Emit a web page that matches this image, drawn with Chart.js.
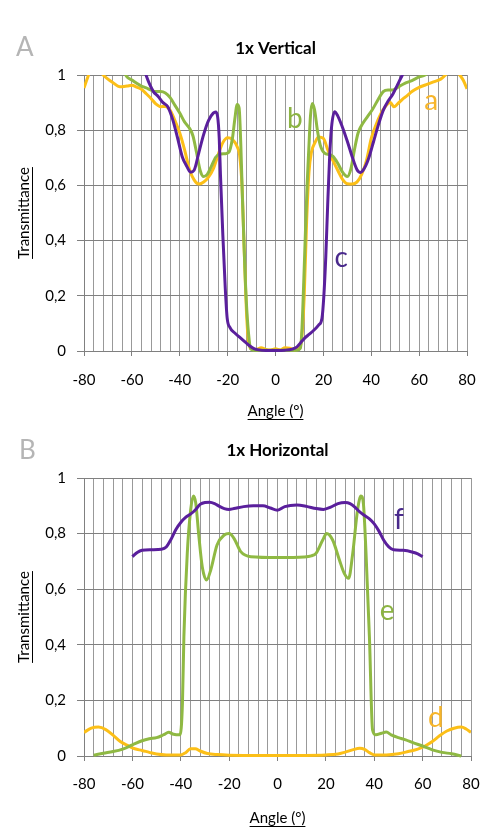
<!DOCTYPE html>
<html>
<head>
<meta charset="utf-8">
<script src="https://cdn.jsdelivr.net/npm/chart.js@4"></script>
<style>
  html, body { margin: 0; padding: 0; background: #fff; }
  canvas { position: absolute; left: 0; }
  #chartA { top: 0; }
  #chartB { top: 422px; }
</style>
</head>
<body>
<canvas id="chartA" width="500" height="422"></canvas>
<canvas id="chartB" width="500" height="416"></canvas>
<script>
// 1x Vertical: a (yellow), b (green), c (purple)
const aAngles = [-80, -78.5, -77, -74, -72, -70, -68, -65, -62, -60, -58, -56, -54, -52, -50, -48, -46, -44, -42, -40,
  -38, -36, -34, -32, -30, -28, -26, -24, -22, -20, -18, -16, -15, -14, -13, -12, -11, -10, -8, -6,
  -4, -2, 0, 2, 4, 6, 8, 10, 11, 12, 13, 14, 15, 16.5, 18, 20, 22, 24, 26, 28,
  30, 32, 34, 36, 38, 40, 42, 44, 46, 48, 49.5, 51, 53, 55, 57, 60, 63, 66, 69, 71, 74, 77, 78.5, 80];
const aValues = [0.953, 0.99, 1.02, 1.02, 1.0, 0.985, 0.973, 0.957, 0.96, 0.963, 0.956, 0.948, 0.932, 0.915, 0.895, 0.885, 0.886, 0.872, 0.835, 0.79,
  0.73, 0.66, 0.62, 0.605, 0.612, 0.63, 0.66, 0.71, 0.755, 0.773, 0.767, 0.74, 0.71, 0.6, 0.35, 0.12, 0.02, 0.008, 0.005, 0.012,
  0.006, 0.004, 0.008, 0.004, 0.012, 0.01, 0.004, 0.01, 0.05, 0.2, 0.47, 0.65, 0.72, 0.755, 0.775, 0.77, 0.725, 0.69, 0.655, 0.622,
  0.606, 0.605, 0.612, 0.64, 0.69, 0.77, 0.82, 0.86, 0.887, 0.9, 0.885, 0.895, 0.912, 0.925, 0.94, 0.955, 0.965, 0.975, 0.985, 1.0, 1.03, 1.0, 0.98, 0.95];

const bAngles = [-80, -70, -64, -62, -60, -58, -56, -54, -52, -50, -48, -46, -44, -42, -40, -38, -36, -34.5, -33, -31.5,
  -30, -28.5, -27, -25, -23, -21, -19.5, -18, -17, -16, -15.2, -14.5, -13.8, -12.8, -12, -11, -10.4, -9, 0, 9,
  10.4, 11, 11.8, 12.5, 13.2, 13.9, 14.6, 15.3, 16.3, 17.5, 18.7, 20.5, 22.5, 24, 26, 28, 30, 31.5, 33, 34.5,
  36.5, 38.5, 40.5, 43, 45, 47, 49, 51.5, 54, 57, 60, 62.5, 66, 70, 80];
const bValues = [1.15, 1.07, 1.02, 0.993, 0.982, 0.97, 0.96, 0.953, 0.945, 0.94, 0.94, 0.935, 0.918, 0.89, 0.862, 0.83, 0.808, 0.78, 0.72, 0.655,
  0.632, 0.64, 0.665, 0.702, 0.714, 0.715, 0.72, 0.77, 0.84, 0.893, 0.88, 0.75, 0.55, 0.3, 0.15, 0.04, 0.008, 0.003, 0.003, 0.003,
  0.01, 0.07, 0.25, 0.43, 0.6, 0.73, 0.85, 0.897, 0.875, 0.8, 0.746, 0.717, 0.712, 0.705, 0.68, 0.648, 0.632, 0.66, 0.73, 0.79,
  0.825, 0.85, 0.875, 0.913, 0.94, 0.946, 0.946, 0.958, 0.97, 0.98, 0.993, 1.0, 1.03, 1.06, 1.15];

const cAngles = [-80, -70, -62, -58, -55, -53, -51, -49, -47, -45, -43, -41, -39, -37, -35.5, -34, -32, -30, -28, -26,
  -25, -24.2, -23.5, -23, -22, -21, -20.2, -19, -17, -15, -13, -11, -9, -7, -4, 0, 4, 7, 9, 10.5,
  12, 14, 16, 18, 19.4, 20.2, 21, 21.8, 22.6, 23.4, 24.7, 26, 28, 30, 32, 34, 35.5, 37, 39, 41,
  43, 45, 47, 49, 51, 53, 56, 62, 70, 80];
const cValues = [1.35, 1.25, 1.12, 1.06, 1.02, 0.975, 0.94, 0.922, 0.9, 0.885, 0.84, 0.775, 0.705, 0.668, 0.648, 0.655, 0.72, 0.785, 0.835, 0.862,
  0.866, 0.85, 0.77, 0.64, 0.42, 0.23, 0.12, 0.085, 0.065, 0.05, 0.035, 0.02, 0.009, 0.004, 0.002, 0.002, 0.003, 0.007, 0.015, 0.03,
  0.045, 0.06, 0.075, 0.094, 0.118, 0.2, 0.34, 0.53, 0.7, 0.81, 0.867, 0.852, 0.81, 0.76, 0.705, 0.658, 0.647, 0.66, 0.7, 0.76,
  0.82, 0.872, 0.905, 0.93, 0.965, 1.0, 1.05, 1.13, 1.25, 1.35];

// 1x Horizontal: d (yellow), e (green), f (purple)
const dAngles = [-80, -77, -74, -71, -68, -65, -62, -59, -56, -53, -50, -46, -40, -38, -36, -34, -32, -29, -25, -20,
  0, 20, 25, 28, 31, 34, 36, 38, 40, 45, 50, 54, 58, 61, 64, 67, 70, 73, 76, 78, 80];
const dValues = [0.085, 0.1, 0.104, 0.095, 0.075, 0.052, 0.038, 0.026, 0.02, 0.013, 0.007, 0.004, 0.004, 0.012, 0.026, 0.026, 0.018, 0.009, 0.005, 0.003,
  0.002, 0.004, 0.007, 0.014, 0.022, 0.028, 0.024, 0.012, 0.004, 0.004, 0.008, 0.016, 0.025, 0.036, 0.052, 0.073, 0.09, 0.1, 0.104, 0.097, 0.085];

const eAngles = [-76, -72, -68, -64, -60, -56, -53, -50, -47, -45, -43, -40.3, -39.3, -38.7, -37.3, -35.9, -34.8, -33.8, -32.5, -31.1,
  -29.3, -27.6, -25, -22, -20, -18, -15.2, -11, 0, 11, 14, 15.9, 18.7, 20.3, 22.8, 25.6, 27.6, 29.4, 31.1, 33.1,
  34.5, 35.5, 36.6, 38, 39.3, 40.7, 43, 45, 47, 50, 53, 56, 60, 64, 68, 72, 76];
const eValues = [0.003, 0.01, 0.016, 0.025, 0.04, 0.055, 0.062, 0.066, 0.077, 0.085, 0.078, 0.076, 0.19, 0.43, 0.73, 0.885, 0.935, 0.91, 0.79, 0.68,
  0.633, 0.669, 0.759, 0.795, 0.8, 0.783, 0.735, 0.717, 0.714, 0.716, 0.72, 0.729, 0.777, 0.8, 0.777, 0.705, 0.657, 0.639, 0.729, 0.885,
  0.935, 0.909, 0.729, 0.429, 0.094, 0.076, 0.082, 0.086, 0.076, 0.066, 0.058, 0.048, 0.036, 0.022, 0.013, 0.008, 0.0];

const fAngles = [-60, -58, -56, -52, -48, -46, -44, -42, -40, -38, -36, -34, -32, -30, -28, -26, -24, -22, -20, -18,
  -14, -10, -6, -3, 0, 3, 8, 12, 16, 19, 22, 25, 28, 30, 32, 34, 36, 38, 40, 42,
  44, 46, 48, 52, 56, 58, 60];
const fValues = [0.717, 0.732, 0.74, 0.742, 0.744, 0.752, 0.78, 0.815, 0.84, 0.858, 0.87, 0.885, 0.905, 0.912, 0.913, 0.908, 0.898, 0.89, 0.887, 0.89,
  0.897, 0.9, 0.9, 0.892, 0.884, 0.897, 0.903, 0.898, 0.89, 0.887, 0.895, 0.908, 0.912, 0.908, 0.895, 0.878, 0.865, 0.853, 0.835, 0.808,
  0.775, 0.752, 0.742, 0.74, 0.733, 0.727, 0.717];

const FONT = 'Lato';
const PURPLE = '#5a1f9c';
const YELLOW = '#fcbf17';
const GREEN = '#8fb943';

Chart.defaults.font.family = FONT;
Chart.defaults.color = '#000';

function toPoints(angles, values) {
  return angles.map((x, i) => ({ x: x, y: values[i] }));
}

function makeDataset(label, angles, values, color) {
  return {
    label: label,
    data: toPoints(angles, values),
    borderColor: color,
    borderWidth: 3,
    pointRadius: 0,
    fill: false,
    cubicInterpolationMode: 'monotone',
    clip: { left: 0, top: 0, right: 0, bottom: 3 }
  };
}

// panel letter, curve letters and underlined axis titles
const decorPlugin = {
  id: 'decor',
  afterDraw(chart, args, opts) {
    const ctx = chart.ctx;
    const xs = chart.scales.x;
    const ys = chart.scales.y;
    ctx.save();

    ctx.font = '26px ' + FONT;
    ctx.fillStyle = '#b5b5b5';
    ctx.textAlign = 'left';
    ctx.textBaseline = 'alphabetic';
    ctx.fillText(opts.panel, opts.panelX, opts.panelY);

    ctx.font = '28px ' + FONT;
    ctx.textAlign = 'center';
    opts.letters.forEach(l => {
      ctx.fillStyle = l.color;
      ctx.fillText(l.text, xs.getPixelForValue(l.x), ys.getPixelForValue(l.y));
    });

    ctx.strokeStyle = '#000';
    ctx.lineWidth = 1;
    // x title underline
    let t = xs.options.title;
    ctx.font = t.font.size + 'px ' + FONT;
    let w = ctx.measureText(t.text).width;
    let cy = xs.bottom - (t.font.size * 1.2 / 2 + t.padding.bottom) + t.font.size * 0.5;
    let cx = (xs.left + xs.right) / 2;
    ctx.beginPath();
    ctx.moveTo(cx - w / 2, Math.round(cy) + 0.5);
    ctx.lineTo(cx + w / 2, Math.round(cy) + 0.5);
    ctx.stroke();
    // y title underline (text is rotated, so the line sits to its right)
    t = ys.options.title;
    ctx.font = t.font.size + 'px ' + FONT;
    w = ctx.measureText(t.text).width;
    cx = ys.left + t.font.size * 1.2 / 2 + t.padding.top + t.font.size * 0.5;
    cy = (ys.top + ys.bottom) / 2;
    ctx.beginPath();
    ctx.moveTo(Math.round(cx) + 0.5, cy - w / 2);
    ctx.lineTo(Math.round(cx) + 0.5, cy + w / 2);
    ctx.stroke();

    ctx.restore();
  }
};

function makeChart(canvasId, cfg) {
  return new Chart(document.getElementById(canvasId), {
    type: 'line',
    data: { datasets: cfg.datasets },
    options: {
      responsive: false,
      animation: false,
      layout: { padding: { left: 0, right: cfg.rightPad, top: 0, bottom: 0 } },
      scales: {
        x: {
          type: 'linear',
          min: -80,
          max: 80,
          afterFit: s => { s.height = cfg.xHeight; },
          ticks: {
            stepSize: 4,
            autoSkip: false,
            maxRotation: 0,
            padding: cfg.xTickPad,
            color: '#000',
            font: { size: 15 },
            callback: v => (Math.round(v) % 20 === 0 ? String(Math.round(v)) : '')
          },
          grid: {
            color: '#999999',
            lineWidth: 1,
            tickLength: 5,
            tickColor: c => (c.tick && Math.round(c.tick.value) % 20 === 0 ? '#7f7f7f' : 'rgba(0,0,0,0)')
          },
          border: { color: '#7f7f7f' },
          title: {
            display: true,
            text: 'Angle (°)',
            color: '#000',
            font: { size: 15 },
            padding: { top: 0, bottom: cfg.xTitlePad }
          }
        },
        y: {
          min: 0,
          max: 1,
          afterFit: s => { s.width = 84; },
          ticks: {
            stepSize: 0.2,
            padding: 11,
            color: '#000',
            font: { size: 15 },
            callback: v => String(Math.round(v * 10) / 10).replace('.', ',')
          },
          grid: { color: '#808080', lineWidth: 1, tickLength: 7 },
          border: { color: '#808080' },
          title: {
            display: true,
            text: 'Transmittance',
            color: '#000',
            font: { size: 15 },
            padding: { top: 15, bottom: 0 }
          }
        }
      },
      plugins: {
        legend: { display: false },
        tooltip: { enabled: false },
        title: {
          display: true,
          text: cfg.title,
          fullSize: false,
          color: '#000',
          font: { size: 17, weight: 'bold' },
          padding: cfg.titlePad
        },
        decor: cfg.decor
      }
    },
    plugins: [decorPlugin]
  });
}

makeChart('chartA', {
  title: '1x Vertical',
  titlePad: { top: 38, bottom: 16.6 },
  rightPad: 33,
  xHeight: 71,
  xTickPad: 15,
  xTitlePad: 2,
  datasets: [
    makeDataset('c', cAngles, cValues, PURPLE),
    makeDataset('b', bAngles, bValues, GREEN),
    makeDataset('a', aAngles, aValues, YELLOW)
  ],
  decor: {
    panel: 'A', panelX: 16, panelY: 56,
    letters: [
      { text: 'a', x: 65, y: 0.873, color: '#f7b52a' },
      { text: 'b', x: 8.1, y: 0.808, color: '#8cb443' },
      { text: 'c', x: 27.4, y: 0.304, color: '#4a2a8c' }
    ]
  }
});

makeChart('chartB', {
  title: '1x Horizontal',
  titlePad: { top: 18, bottom: 17.6 },
  rightPad: 29,
  xHeight: 82,
  xTickPad: 14,
  xTitlePad: 11,
  datasets: [
    makeDataset('f', fAngles, fValues, PURPLE),
    makeDataset('e', eAngles, eValues, GREEN),
    makeDataset('d', dAngles, dValues, YELLOW)
  ],
  decor: {
    panel: 'B', panelX: 19, panelY: 37,
    letters: [
      { text: 'd', x: 65.5, y: 0.104, color: '#f7b52a' },
      { text: 'e', x: 45.3, y: 0.489, color: '#8cb443' },
      { text: 'f', x: 50.2, y: 0.817, color: '#4a2a8c' }
    ]
  }
});
</script>
</body>
</html>
